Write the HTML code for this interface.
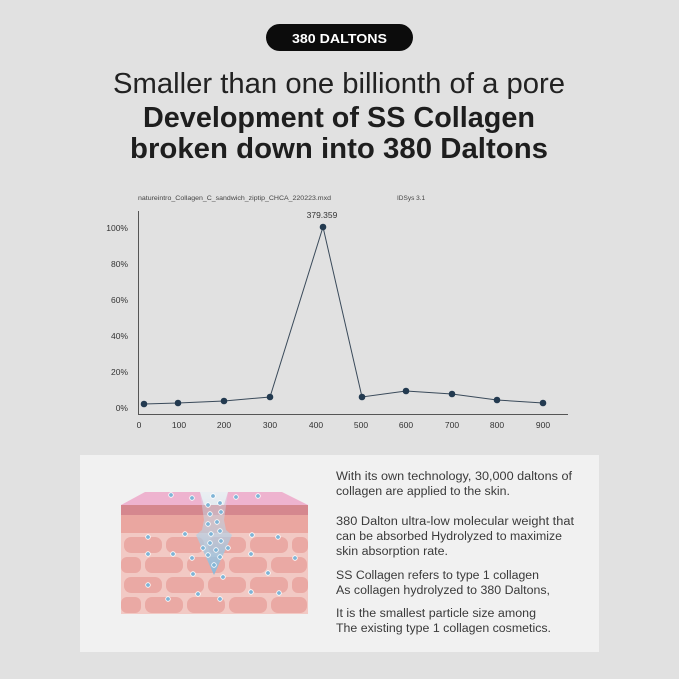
<!DOCTYPE html>
<html><head><meta charset="utf-8"><style>
html,body{margin:0;padding:0;background:#e1e1e1;}
svg{display:block;}
text{font-family:"Liberation Sans","DejaVu Sans",sans-serif;}
</style></head><body>
<svg width="679" height="679" viewBox="0 0 679 679" xmlns="http://www.w3.org/2000/svg">
<rect width="679" height="679" fill="#e1e1e1"/>
<rect x="266" y="24" width="147" height="27" rx="13.5" fill="#0c0c0c"/>
<text x="292" y="43" font-size="13" font-weight="bold" fill="#fff" textLength="95" lengthAdjust="spacingAndGlyphs">380 DALTONS</text>
<text x="113" y="93" font-size="29" fill="#222" textLength="452" lengthAdjust="spacingAndGlyphs">Smaller than one billionth of a pore</text>
<text x="143" y="127" font-size="29" font-weight="bold" fill="#1e1e1e" textLength="392" lengthAdjust="spacingAndGlyphs">Development of SS Collagen</text>
<text x="130" y="158" font-size="29" font-weight="bold" fill="#1e1e1e" textLength="418" lengthAdjust="spacingAndGlyphs">broken down into 380 Daltons</text>

<text x="138" y="200" font-size="6.5" fill="#444" textLength="193" lengthAdjust="spacingAndGlyphs">natureintro_Collagen_C_sandwich_ziptip_CHCA_220223.mxd</text>
<text x="397" y="200" font-size="6.5" fill="#444">IDSys 3.1</text>
<g stroke="#555" stroke-width="1" fill="none">
<line x1="138.5" y1="211" x2="138.5" y2="414"/>
<line x1="138" y1="414.5" x2="568" y2="414.5"/>
</g>
<g font-size="8.5" fill="#333" text-anchor="end">
<text x="128" y="231">100%</text><text x="128" y="267">80%</text><text x="128" y="303">60%</text>
<text x="128" y="339">40%</text><text x="128" y="375">20%</text><text x="128" y="411">0%</text>
</g>
<g font-size="8.5" fill="#333" text-anchor="middle">
<text x="139" y="428">0</text><text x="179" y="428">100</text><text x="224" y="428">200</text><text x="270" y="428">300</text>
<text x="316" y="428">400</text><text x="361" y="428">500</text><text x="406" y="428">600</text><text x="452" y="428">700</text>
<text x="497" y="428">800</text><text x="543" y="428">900</text>
</g>
<polyline points="144,404 178,403 224,401 270,397 323,227 362,397 406,391 452,394 497,400 543,403" fill="none" stroke="#3a4a5a" stroke-width="1"/>
<g fill="#233a50">
<circle cx="144" cy="404" r="3.3"/><circle cx="178" cy="403" r="3.3"/><circle cx="224" cy="401" r="3.3"/>
<circle cx="270" cy="397" r="3.3"/><circle cx="323" cy="227" r="3.3"/><circle cx="362" cy="397" r="3.3"/>
<circle cx="406" cy="391" r="3.3"/><circle cx="452" cy="394" r="3.3"/><circle cx="497" cy="400" r="3.3"/>
<circle cx="543" cy="403" r="3.3"/>
</g>
<text x="322" y="218" font-size="8.5" fill="#333" text-anchor="middle">379.359</text>

<rect x="80" y="455" width="519" height="197" fill="#f1f1f1"/>
<defs>
<linearGradient id="ar" x1="0" y1="0" x2="0" y2="1">
<stop offset="0" stop-color="#dbe9f3" stop-opacity="0.3"/><stop offset="1" stop-color="#8ab8d8"/>
</linearGradient>
</defs>
<rect x="121" y="515" width="187" height="99" fill="#f2c9c4"/>
<g fill="#eaa9a4">
<rect x="124" y="537" width="38" height="16" rx="7"/><rect x="166" y="537" width="38" height="16" rx="7"/><rect x="208" y="537" width="38" height="16" rx="7"/><rect x="250" y="537" width="38" height="16" rx="7"/><rect x="292" y="537" width="16" height="16" rx="6"/>
<rect x="121" y="557" width="20" height="16" rx="6"/><rect x="145" y="557" width="38" height="16" rx="7"/><rect x="187" y="557" width="38" height="16" rx="7"/><rect x="229" y="557" width="38" height="16" rx="7"/><rect x="271" y="557" width="36" height="16" rx="7"/>
<rect x="124" y="577" width="38" height="16" rx="7"/><rect x="166" y="577" width="38" height="16" rx="7"/><rect x="208" y="577" width="38" height="16" rx="7"/><rect x="250" y="577" width="38" height="16" rx="7"/><rect x="292" y="577" width="16" height="16" rx="6"/>
<rect x="121" y="597" width="20" height="16" rx="6"/><rect x="145" y="597" width="38" height="16" rx="7"/><rect x="187" y="597" width="38" height="16" rx="7"/><rect x="229" y="597" width="38" height="16" rx="7"/><rect x="271" y="597" width="36" height="16" rx="7"/>
</g>
<rect x="121" y="515" width="187" height="18" fill="#eaa6a0"/>
<rect x="121" y="505" width="187" height="10" fill="#d5878e"/>
<polygon points="145,492 200,492 204,505 121,505" fill="#eeb3cf"/>
<polygon points="228,492 282,492 308,505 224,505" fill="#eeb3cf"/>
<polygon points="200,492 228,492 224,520 226,530 232,535 214,575 196,535 202,530 204,520" fill="url(#ar)"/>
<g fill="#7fb4d6" stroke="#fff" stroke-width="0.8">
<circle cx="171" cy="495" r="2.3"/><circle cx="192" cy="498" r="2.3"/><circle cx="213" cy="496" r="2.3"/><circle cx="236" cy="497" r="2.3"/><circle cx="258" cy="496" r="2.3"/>
<circle cx="208" cy="505" r="2.3"/><circle cx="220" cy="503" r="2.3"/><circle cx="210" cy="514" r="2.3"/><circle cx="221" cy="512" r="2.3"/><circle cx="208" cy="524" r="2.3"/><circle cx="217" cy="522" r="2.3"/>
<circle cx="211" cy="534" r="2.3"/><circle cx="220" cy="531" r="2.3"/><circle cx="210" cy="543" r="2.3"/><circle cx="221" cy="541" r="2.3"/><circle cx="203" cy="548" r="2.3"/><circle cx="216" cy="550" r="2.3"/><circle cx="228" cy="548" r="2.3"/>
<circle cx="208" cy="555" r="2.3"/><circle cx="220" cy="557" r="2.3"/><circle cx="214" cy="565" r="2.3"/>
<circle cx="148" cy="537" r="2.3"/><circle cx="185" cy="534" r="2.3"/><circle cx="252" cy="535" r="2.3"/><circle cx="278" cy="537" r="2.3"/>
<circle cx="148" cy="554" r="2.3"/><circle cx="173" cy="554" r="2.3"/><circle cx="192" cy="558" r="2.3"/><circle cx="251" cy="554" r="2.3"/><circle cx="295" cy="558" r="2.3"/>
<circle cx="193" cy="574" r="2.3"/><circle cx="223" cy="577" r="2.3"/><circle cx="268" cy="573" r="2.3"/>
<circle cx="148" cy="585" r="2.3"/><circle cx="168" cy="599" r="2.3"/><circle cx="198" cy="594" r="2.3"/><circle cx="220" cy="599" r="2.3"/><circle cx="251" cy="592" r="2.3"/><circle cx="279" cy="593" r="2.3"/>
</g>
<g font-size="11.5" fill="#3a3a3a">
<text x="336" y="480" textLength="236" lengthAdjust="spacingAndGlyphs">With its own technology, 30,000 daltons of</text>
<text x="336" y="495" textLength="174" lengthAdjust="spacingAndGlyphs">collagen are applied to the skin.</text>
<text x="336" y="525" textLength="238" lengthAdjust="spacingAndGlyphs">380 Dalton ultra-low molecular weight that</text>
<text x="336" y="540" textLength="226" lengthAdjust="spacingAndGlyphs">can be absorbed Hydrolyzed to maximize</text>
<text x="336" y="555" textLength="112" lengthAdjust="spacingAndGlyphs">skin absorption rate.</text>
<text x="336" y="579" textLength="203" lengthAdjust="spacingAndGlyphs">SS Collagen refers to type 1 collagen</text>
<text x="336" y="594" textLength="214" lengthAdjust="spacingAndGlyphs">As collagen hydrolyzed to 380 Daltons,</text>
<text x="336" y="617" textLength="200" lengthAdjust="spacingAndGlyphs">It is the smallest particle size among</text>
<text x="336" y="632" textLength="215" lengthAdjust="spacingAndGlyphs">The existing type 1 collagen cosmetics.</text>
</g>
</svg>
</body></html>
